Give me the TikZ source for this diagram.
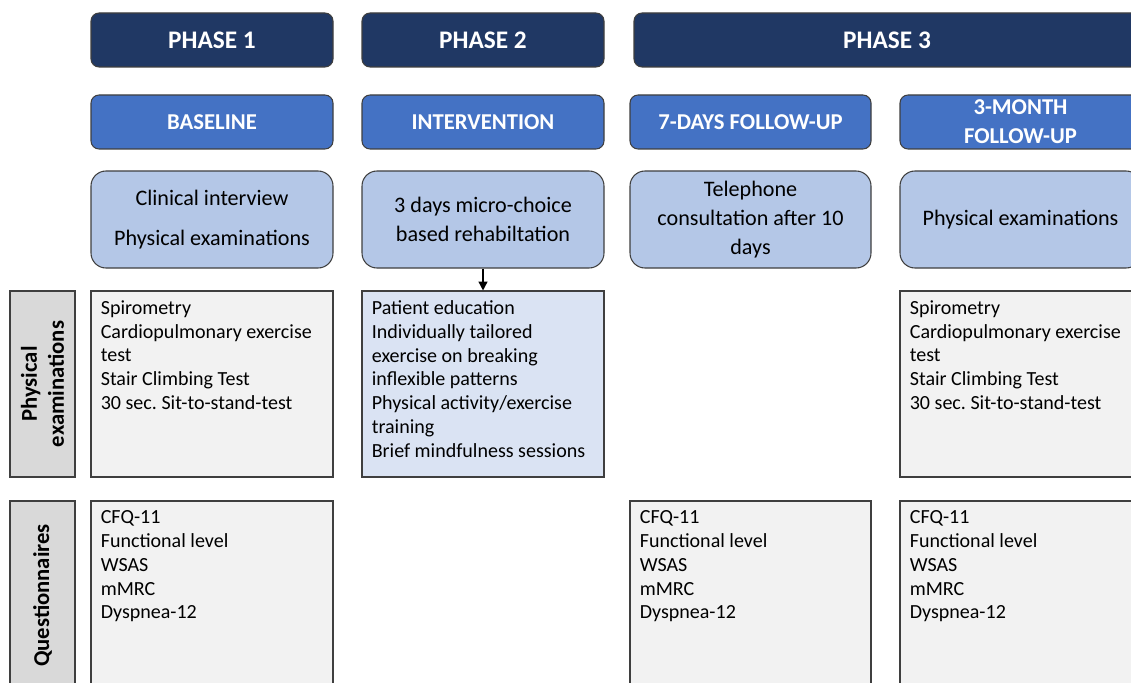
\documentclass[tikz,border=0pt]{standalone}
\usepackage{fontspec}
\setmainfont{Carlito}
\usetikzlibrary{arrows.meta}
\frenchspacing
\definecolor{phaseblue}{HTML}{203864}
\definecolor{stageblue}{HTML}{4472C4}
\definecolor{taskblue}{HTML}{B4C7E7}
\definecolor{introblue}{HTML}{DAE3F3}
\definecolor{sheetgrey}{HTML}{F2F2F2}
\definecolor{sidegrey}{HTML}{D9D9D9}
\definecolor{cellborder}{HTML}{3F3F3F}
\tikzset{
	cell/.style={draw=cellborder, line width=0.6pt, inner sep=0pt},
	phase/.style={cell, fill=phaseblue, rounded corners=0.16cm, text=white, font=\fontsize{14.4}{17}\selectfont\bfseries},
	stage/.style={cell, fill=stageblue, rounded corners=0.16cm, text=white, align=center, font=\fontsize{12.9}{16.4}\selectfont\bfseries},
	task/.style={cell, fill=taskblue, rounded corners=0.3cm, align=center, font=\fontsize{12.6}{16.4}\selectfont},
	sheet/.style={cell, fill=sheetgrey},
	side/.style={cell, fill=sidegrey},
	sidetext/.style={rotate=90, align=center, font=\fontsize{12.9}{15.5}\selectfont\bfseries},
	items/.style={anchor=north west, align=left, inner sep=0pt, font=\fontsize{11.4}{13.6}\selectfont}
}
\newcommand{\cell}[7][]{
	\node[#1, minimum width={(#5-#3)*0.02cm}, minimum height={(#6-#4)*0.02cm}] (#2) at ({(#3+#5)/2}, {(#4+#6)/2}) {#7};
}
\newcommand{\items}[2]{
	\node[items] (#1text) at ([xshift=0.2cm, yshift=-0.19cm]#1.north west) {#2};
}

\begin{document}
\begin{tikzpicture}[x=0.02cm, y=-0.02cm]
	\useasboundingbox (0,0) rectangle (1131,682);
	\clip (0,0) rectangle (1131,682);

	\cell[phase]{phaseA}{91}{13}{333}{67}{PHASE 1};
	\cell[phase]{phaseB}{362}{13}{604}{67}{PHASE 2};
	\cell[phase]{phaseC}{634}{13}{1140}{67}{PHASE 3};

	\cell[stage]{stageA}{91}{95}{333}{149}{BASELINE};
	\cell[stage]{stageB}{362}{95}{604}{149}{INTERVENTION};
	\cell[stage]{stageC}{630}{95}{871}{149}{7-DAYS FOLLOW-UP};
	\cell[stage]{stageD}{900}{95}{1141}{149}{3-MONTH\\FOLLOW-UP};

	\cell[task]{taskA}{91}{171}{333}{268}{Clinical interview\\[6.3pt]Physical examinations};
	\cell[task]{taskB}{362}{171}{604}{268}{3 days micro-choice\\based rehabiltation};
	\cell[task]{taskC}{630}{171}{871}{268}{Telephone\\consultation after 10\\days};
	\cell[task]{taskD}{900}{171}{1141}{268}{Physical examinations};

	\cell[side]{sidePhys}{10}{291}{75}{477}{};
	\node[sidetext] (sidePhysText) at (sidePhys.center) {Physical\\examinations};
	\cell[side]{sideQuest}{10}{501}{75}{690}{};
	\node[sidetext] (sideQuestText) at (sideQuest.center) {Questionnaires};

	\cell[sheet]{examA}{91}{291}{333}{477}{};
	\cell[sheet, fill=introblue]{examB}{362}{291}{604}{477}{};
	\cell[sheet]{examD}{900}{291}{1141}{477}{};

	\cell[sheet]{questA}{91}{501}{333}{690}{};
	\cell[sheet]{questC}{630}{501}{871}{690}{};
	\cell[sheet]{questD}{900}{501}{1141}{690}{};

	\items{examA}{Spirometry\\Cardiopulmonary exercise\\test\\Stair Climbing Test\\30 sec. Sit-to-stand-test};
	\items{examB}{Patient education\\Individually tailored\\exercise on breaking\\inflexible patterns\\Physical activity/exercise\\training\\Brief mindfulness sessions};
	\items{examD}{Spirometry\\Cardiopulmonary exercise\\test\\Stair Climbing Test\\30 sec. Sit-to-stand-test};

	\foreach \q in {questA, questC, questD} {
		\items{\q}{CFQ-11\\Functional level\\WSAS\\mMRC\\Dyspnea-12};
	}

	\draw[line width=0.8pt, -{Triangle[length=5pt, width=5pt]}] (taskB) -- (examB);
\end{tikzpicture}
\end{document}
